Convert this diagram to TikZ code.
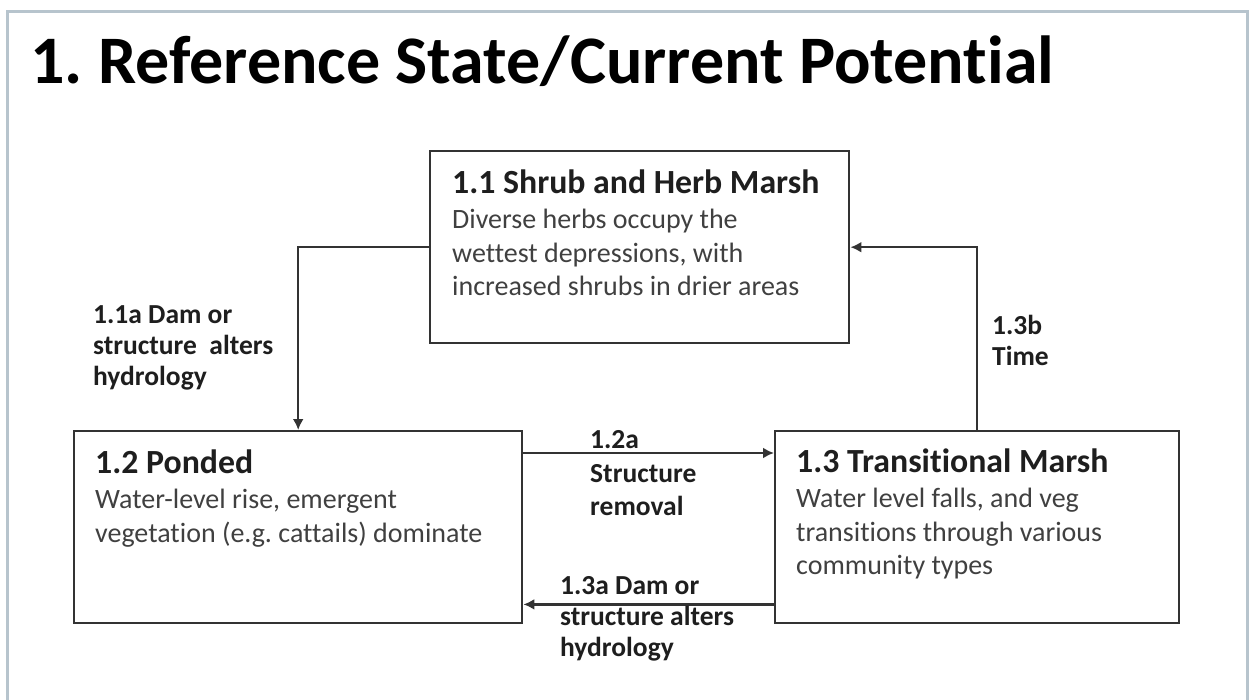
\documentclass[tikz,border=0pt]{standalone}
\usepackage{fontspec}
\setmainfont{Carlito}[Ligatures=NoCommon]
\usepackage{tikz}
\usetikzlibrary{arrows.meta,positioning,calc}
\usepackage{xcolor}
\definecolor{framegray}{HTML}{B7C4CD}
\definecolor{linegray}{HTML}{333333}
\definecolor{bodygray}{HTML}{404040}
\definecolor{headgray}{HTML}{1E1E1E}
\frenchspacing

\begin{document}
\begin{tikzpicture}[
  x=1pt, y=-1pt,
  box/.style={draw=linegray, line width=2.4pt, minimum height=192pt,
              anchor=north west, inner sep=0pt},
  boxtext/.style={anchor=north west, inner sep=0pt, align=left, text=bodygray,
                  font=\fontsize{28}{33.5}\selectfont},
  lbl/.style={anchor=north west, inner sep=0pt, align=left, text=headgray,
              font=\fontsize{27.5}{31}\selectfont\bfseries},
  arr/.style={draw=linegray, line width=2.5pt, -{Latex[length=11pt,width=11pt]}}
]
\useasboundingbox (0,0) rectangle (1252,700);
\draw[framegray, line width=3pt] (7,12) rectangle (1247,720);

\node[anchor=base west, inner sep=0pt, text=black,
      font=\fontsize{68}{74}\selectfont\bfseries] (title) at (30,84)
  {1. Reference State/Current Potential};

% the three states
\node[box, minimum width=419pt] (shrub)  at (429,150) {};
\node[box, minimum width=448pt] (ponded) at (73,430)  {};
\node[box, minimum width=404pt] (trans)  at (774,430) {};

\node[boxtext] (shrub-txt) at ([shift={(23pt,-20pt)}]shrub.north west)
  {{\color{headgray}\fontsize{33.8}{36}\selectfont\bfseries 1.1 Shrub and Herb Marsh}\\[1.5pt]
   Diverse herbs occupy the\\
   wettest depressions, with\\
   increased shrubs in drier areas};
\node[boxtext] (ponded-txt) at ([shift={(22pt,-20pt)}]ponded.north west)
  {{\color{headgray}\fontsize{33.8}{36}\selectfont\bfseries 1.2 Ponded}\\[1.5pt]
   Water-level rise, emergent\\
   vegetation (e.g. cattails) dominate};
\node[boxtext] (trans-txt) at ([shift={(22pt,-19pt)}]trans.north west)
  {{\color{headgray}\fontsize{33.8}{36}\selectfont\bfseries 1.3 Transitional Marsh}\\[1.5pt]
   Water level falls, and veg\\
   transitions through various\\
   community types};

% transitions
\coordinate (ponded-out) at ([yshift=-23pt]ponded.north east);
\coordinate (trans-out)  at ([yshift=20pt]trans.south west);

\draw[arr] (shrub.west) -| (ponded.north);
\draw[arr] (trans.north) |- (shrub.east);
\draw[arr] (ponded-out) -- (ponded-out -| trans.west);
\draw[arr] (trans-out) -- (trans-out -| ponded.east);

\node[lbl] (lbl-11a) at (93,305)  {1.1a Dam or\\structure~~alters\\hydrology};
\node[lbl] (lbl-12a) at (590,430) {1.2a\\[3pt]Structure\\[2pt]removal};
\node[lbl] (lbl-13a) at (560,576) {1.3a Dam or\\structure alters\\hydrology};
\node[lbl] (lbl-13b) at (992,315) {1.3b\\Time};
\end{tikzpicture}
\end{document}
